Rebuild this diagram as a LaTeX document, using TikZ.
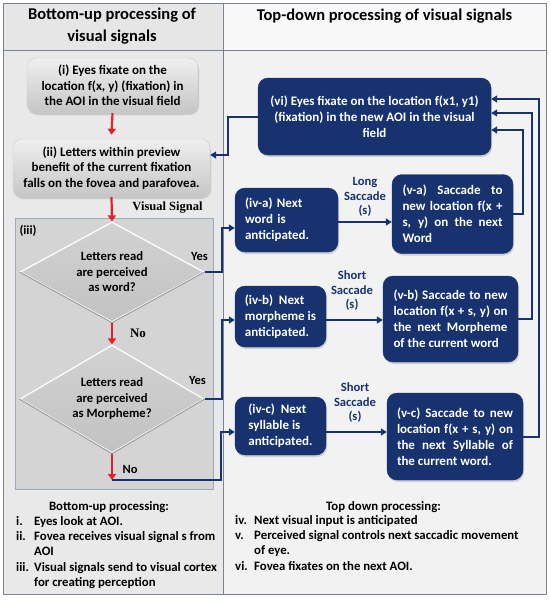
\documentclass[tikz,border=0pt]{standalone}
\usepackage{fontspec}
\setmainfont{Carlito}
\newfontfamily\tmsfont{Liberation Serif}
\usetikzlibrary{arrows.meta,shapes.geometric,shadows}
\definecolor{navy}{HTML}{17326F}
\definecolor{redar}{HTML}{E42126}
\definecolor{framec}{HTML}{7A8392}
\definecolor{lhdr}{HTML}{E6E6E6}
\definecolor{rhdr}{HTML}{F8F8F8}
\definecolor{lbody}{HTML}{E9E9E9}
\definecolor{rbody}{HTML}{F2F2F2}
\definecolor{gbtop}{HTML}{EFEFEF}
\definecolor{gbbot}{HTML}{C6C6C6}
\definecolor{iiifill}{HTML}{D4D4D4}
\definecolor{iiiedge}{HTML}{9EAABB}
\definecolor{diatop}{HTML}{D2D2D2}
\definecolor{diabot}{HTML}{C2C2C2}
\definecolor{diaedge}{HTML}{9C9C9C}
\begin{document}
\begin{tikzpicture}[x=1pt,y=-1pt,
  graybox/.style={rounded corners=9pt, top color=gbtop, bottom color=gbbot, draw=white!80!black,
    drop shadow={opacity=0.3, shadow xshift=1pt, shadow yshift=-2pt},
    font=\bfseries\fontsize{13}{15.3}\selectfont, align=center, inner sep=0pt},
  navybox/.style={rounded corners=10pt, fill=navy, draw=navy, text=white,
    drop shadow={opacity=0.3, shadow xshift=1pt, shadow yshift=-2pt},
    font=\bfseries\fontsize{13}{16}\selectfont, inner ysep=0pt},
  dia/.style={diamond, aspect=1.84, top color=diatop, bottom color=diabot, draw=white, line width=1.2pt,
    inner sep=0pt, font=\bfseries\fontsize{12.7}{15.5}\selectfont, align=center},
  diaedge/.style={draw=diaedge, line width=1pt},
  lbl/.style={font=\bfseries\fontsize{12.5}{15}\selectfont, inner sep=0pt},
  clbl/.style={font=\bfseries\fontsize{12.6}{14.5}\selectfont, text=navy, align=center, inner sep=0pt},
  lst/.style={font=\bfseries\fontsize{12.8}{15.4}\selectfont, inner sep=0pt},
  hdr/.style={font=\bfseries\fontsize{16.5}{22}\selectfont, align=center, inner sep=0pt},
  rd/.style={draw=redar, line width=2.2pt, -{Triangle[length=6pt,width=8pt]}},
  bl/.style={draw=navy, line width=2pt, -{Triangle[length=6pt,width=7pt]}},
  frame/.style={draw=framec, line width=1pt}
]
\useasboundingbox (0,0) rectangle (550,603);
% backgrounds
\fill[white] (0,0) rectangle (550,603);
\fill[lhdr] (3,3) rectangle (223,50);
\fill[rhdr] (223,3) rectangle (546,50);
\fill[lbody] (3,50) rectangle (223,594);
\fill[rbody] (223,50) rectangle (546,594);
\draw[frame] (3,3) rectangle (546,594);
\draw[frame] (3,50) -- (546,50);
\draw[frame] (223,3) -- (223,594);

% headers
\node[hdr] (h1) at (112,26) {Bottom-up processing of\\visual signals};
\node[hdr] (h2) at (384.5,16) {Top-down processing of visual signals};

% (iii) region
\node[draw=iiiedge, fill=iiifill, line width=0.8pt, minimum width=198pt, minimum height=271pt, inner sep=0pt] (iii) at (114,353.5) {};
\node[lbl] (iiilab) at (28,231) {(iii)};

% bottom-up boxes
\node[graybox, minimum width=171pt, minimum height=55pt] (i) at (112.5,85.5)
  {(i) Eyes fixate on the\\location f(x, y) (fixation) in\\the AOI in the visual field};
\node[graybox, minimum width=197pt, minimum height=58pt] (ii) at (111.5,168)
  {(ii) Letters within preview\\benefit of the current fixation\\falls on the fovea and parafovea.};
\node[dia, minimum width=184pt, minimum height=100pt] (d1) at (112,272)
  {Letters read\\are perceived\\as word?};
\node[dia, minimum width=184pt, minimum height=108pt] (d2) at (112,399)
  {Letters read\\are perceived\\as Morpheme?};
\draw[diaedge] (d1.west) -- (d1.south) -- (d1.east);
\draw[diaedge] (d2.west) -- (d2.south) -- (d2.east);
\coordinate (nend) at (112,480);

\node[lbl, font=\tmsfont\bfseries\fontsize{12.5}{15}\selectfont] (vs) at (167.5,208) {Visual Signal};
\node[lbl, font=\tmsfont\bfseries\fontsize{13}{15}\selectfont] (no1) at (138,333) {No};
\node[lbl] (yes1) at (199.5,256) {Yes};
\node[lbl] (yes2) at (197.5,380) {Yes};
\node[lbl] (no2) at (130,469) {No};

% top-down boxes
\node[navybox, minimum width=233pt, minimum height=77pt, align=center, inner xsep=0pt] (vi) at (374.5,116.5)
  {(vi) Eyes fixate on the location f(x1, y1)\\(fixation) in the new AOI in the visual\\field};
\node[navybox, text width=83pt, inner xsep=10pt, minimum height=64pt, align=left] (iva) at (286.5,220)
  {(iv-a) Next\\word is\\anticipated.};
\node[navybox, minimum width=91pt, inner xsep=0pt, minimum height=61pt, align=left] (ivb) at (280.5,316.5)
  {(iv-b)~ Next\\morpheme is\\anticipated.};
\node[navybox, minimum width=91pt, inner xsep=0pt, minimum height=58pt, align=left] (ivc) at (280.5,426)
  {(iv-c)~ Next\\syllable is\\anticipated.};
\node[navybox, text width=100pt, inner xsep=10.5pt, minimum height=79pt, align=justify] (va) at (452.5,214)
  {\tolerance=10000 (v-a) Saccade to\linebreak new location f(x +\linebreak s, y) on the next\linebreak Word};
\node[navybox, text width=114pt, inner xsep=10.5pt, minimum height=86pt, align=justify] (vb) at (450.5,319)
  {\tolerance=10000 (v-b) Saccade to new\linebreak location f(x + s, y) on\linebreak the next Morpheme\linebreak of the current word};
\node[navybox, text width=116pt, inner xsep=10pt, minimum height=87pt, align=justify] (vc) at (455,436.5)
  {\tolerance=10000 (v-c) Saccade to new\linebreak location f(x + s, y) on\linebreak the next Syllable of\linebreak the current word.};

\node[clbl] (l1) at (365,197) {Long\\Saccade\\(s)};
\node[clbl] (l2) at (352,291) {Short\\Saccade\\(s)};
\node[clbl] (l3) at (355,403) {Short\\Saccade\\(s)};

% red flow arrows
\draw[rd] (i.south) -- ([yshift=4pt]ii.north);
\draw[rd] (ii.south) -- (d1.north);
\draw[rd] (d1.south) -- (d2.north);
\draw[rd] (d2.south) -- (nend);

% blue connectors
\draw[bl] (vi.west) -- ++(-30,0) |- ([yshift=13pt]ii.east);
\draw[bl] (d1.east) -- ++(17,0) |- ([yshift=-8pt]iva.west);
\draw[bl] (d2.east) -- ++(17,0) |- ([yshift=-3.5pt]ivb.west);
\draw[bl] (nend) -- ++(109,0) |- ([yshift=-6pt]ivc.west);
\draw[bl] ([yshift=-2pt]iva.east) -- ([yshift=-2pt]iva.east -| va.west);
\draw[bl] ([yshift=-3.5pt]ivb.east) -- ([yshift=-3.5pt]ivb.east -| vb.west);
\draw[bl] ([yshift=-6pt]ivc.east) -- ([yshift=-6pt]ivc.east -| vc.west);
\draw[bl] (va.east) -- ++(10,0) |- ([yshift=-13.5pt]vi.east);
\draw[bl] (vb.east) -- ++(14,0) |- ([yshift=3.5pt]vi.east);
\draw[bl] (vc.east) -- ++(16,0) |- ([yshift=17.5pt]vi.east);

% lists
\node[lst, anchor=base] (buh) at (109,510) {Bottom-up processing:};
\node[lst, anchor=base west] (bul) at (16,525)
  {\begin{tabular}[t]{@{}p{18pt}@{}l@{}}
   i. & Eyes look at AOI.\\
   ii. & Fovea receives visual signal s from\\
       & AOI\\
   iii. & Visual signals send to visual cortex\\
        & for creating perception
   \end{tabular}};
\node[lst, anchor=base] (tdh) at (383.5,510) {Top down processing:};
\node[lst, anchor=base west] (tdl) at (235,524)
  {\begin{tabular}[t]{@{}p{19pt}@{}l@{}}
   iv. & Next visual input is anticipated\\
   v. & Perceived signal controls next saccadic movement\\
      & of eye.\\
   vi. & Fovea fixates on the next AOI.
   \end{tabular}};
\end{tikzpicture}
\end{document}
